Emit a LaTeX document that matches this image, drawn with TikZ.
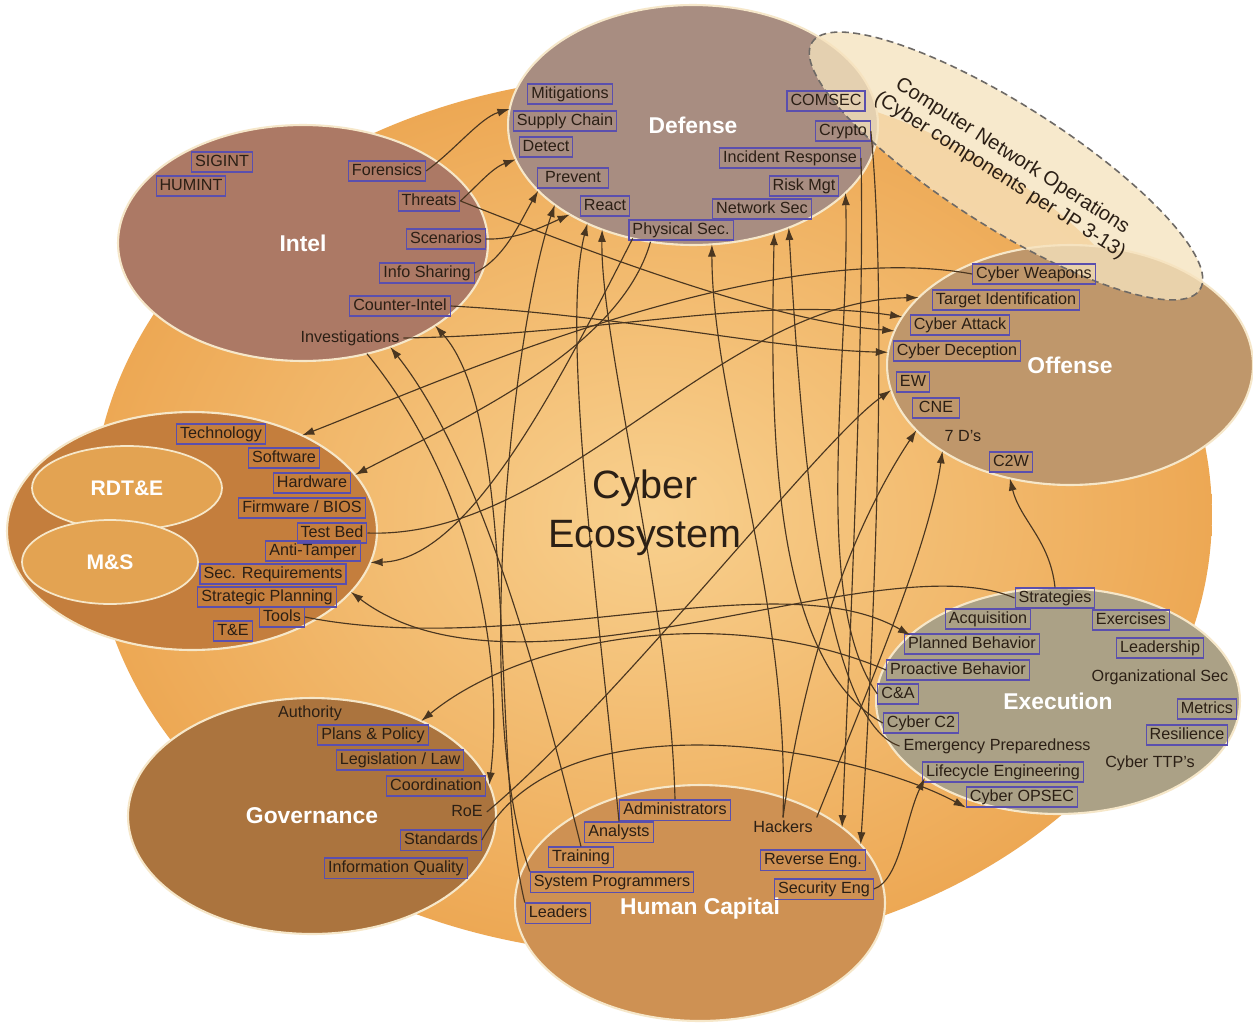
\documentclass[tikz,border=0pt]{standalone}
\usepackage{fontspec}
\setmainfont{Liberation Sans}
\usetikzlibrary{arrows.meta,shapes.geometric}
\definecolor{EcoLight}{HTML}{F8D08E}
\definecolor{EcoDeep}{HTML}{EDA854}
\definecolor{IntelBrown}{HTML}{AC7965}
\definecolor{DefMauve}{HTML}{A88D81}
\definecolor{OffTan}{HTML}{BF976B}
\definecolor{RdteOrange}{HTML}{C47E3D}
\definecolor{RdteInner}{HTML}{E3A352}
\definecolor{GovBrown}{HTML}{AB743E}
\definecolor{HumanTan}{HTML}{CE9153}
\definecolor{ExecOlive}{HTML}{ABA186}
\definecolor{CnoCream}{HTML}{F6E3BE}
\definecolor{RimCream}{HTML}{F6E7C9}
\definecolor{TagBlue}{HTML}{5A4FAE}
\definecolor{InkDark}{HTML}{2B1F15}
\definecolor{LinkBrown}{HTML}{4A3620}
\definecolor{DashGray}{HTML}{6E6A66}

\begin{document}
\begin{tikzpicture}[x=0.02cm,y=-0.02cm,
    region/.style={
      ellipse,
      draw=RimCream,
      line width=1.2pt,
      inner sep=0pt,
      outer sep=0pt,
      font=\fontsize{13}{15}\selectfont\bfseries,
      text=white
    },
    subregion/.style={
      ellipse,
      draw=RimCream,
      line width=1pt,
      fill=RdteInner,
      inner sep=0pt,
      minimum height=1.68cm,
      font=\fontsize{12}{14}\selectfont\bfseries,
      text=white
    },
    tag/.style={
      draw=TagBlue,
      line width=0.6pt,
      inner xsep=2pt,
      inner ysep=1.3pt,
      text height=6.8pt,
      text depth=2pt,
      font=\fontsize{9.2}{10}\selectfont,
      text=InkDark
    },
    bare/.style={tag, draw=none},
    link/.style={
      -{Latex[length=7pt,width=4.6pt]},
      draw=LinkBrown,
      line width=0.65pt
    }
  ]

  \fill[white] (0,0) rectangle (1253,1024);
  \useasboundingbox (0,0) rectangle (1253,1024);

  % Ecosystem backdrop
  \node[ellipse, inner sep=0pt, inner color=EcoLight, outer color=EcoDeep,
    minimum width=22.4cm, minimum height=17.6cm] (eco) at (652,515) {};

  % Areas
  \node[region, fill=IntelBrown, minimum width=7.4cm, minimum height=4.72cm] (intel) at (303,243) {Intel};
  \node[region, fill=DefMauve, minimum width=7.4cm, minimum height=4.8cm] (defense) at (693,125) {Defense};
  \node[region, fill=OffTan, minimum width=7.32cm, minimum height=4.8cm] (offense) at (1070,365) {Offense};
  \node[region, fill=RdteOrange, minimum width=7.4cm, minimum height=4.76cm] (rdte) at (192,531) {};
  \node[subregion, minimum width=3.8cm] (rdtein) at (127,488) {RDT\&E};
  \node[subregion, minimum width=3.52cm] (msin) at (110,562) {M\&S};
  \node[region, fill=GovBrown, minimum width=7.36cm, minimum height=4.72cm] (gov) at (312,816) {Governance};
  \node[region, fill=HumanTan, minimum width=7.4cm, minimum height=4.72cm] (hcap) at (700,903) {};
  \node[region, draw=none, fill=none] (hcaptitle) at (700,909) {Human Capital};
  \node[region, fill=ExecOlive, minimum width=7.28cm, minimum height=4.52cm] (exec) at (1058,701) {Execution};

  % CNO overlay
  \node[ellipse, draw=DashGray, dash pattern=on 4pt off 2.5pt, line width=0.9pt,
    fill=CnoCream, fill opacity=0.78, text opacity=1, rotate=-32.5,
    minimum width=9.2cm, minimum height=2.45cm, inner sep=0pt, align=center,
    font=\fontsize{11.5}{13}\selectfont, text=InkDark] (cno) at (1006,166)
    {Computer Network Operations\\(Cyber components per JP 3-13)};

  % Intel items
  \node[tag] (sigint) at (222,162) {SIGINT};
  \node[tag] (humint) at (191,186) {HUMINT};
  \node[tag] (forens) at (387,171) {Forensics};
  \node[tag] (threats) at (429,201) {Threats};
  \node[tag] (scen) at (446,239) {Scenarios};
  \node[tag] (infoshr) at (427,273) {Info Sharing};
  \node[tag] (counter) at (400,306) {Counter-Intel};
  \node[bare] (invest) at (350,338) {Investigations};

  % Defense items
  \node[tag] (mitig) at (570,94) {Mitigations};
  \node[tag] (supply) at (565,121) {Supply Chain};
  \node[tag] (detect) at (546,147) {Detect};
  \node[tag, minimum width=40pt] (prevent) at (573,178) {Prevent};
  \node[tag] (react) at (605,206) {React};
  \node[tag] (physec) at (681,230) {Physical Sec.};
  \node[tag] (netsec) at (762,209) {Network Sec};
  \node[tag] (riskmgt) at (804,186) {Risk Mgt};
  \node[tag] (incident) at (790,158) {Incident Response};
  \node[tag] (crypto) at (843,131) {Crypto};
  \node[tag] (comsec) at (826,101) {COMSEC};

  % Offense items
  \node[tag] (weapons) at (1034,274) {Cyber Weapons};
  \node[tag] (target) at (1006,300) {Target Identification};
  \node[tag] (attack) at (960,325) {Cyber Attack};
  \node[tag] (decept) at (957,351) {Cyber Deception};
  \node[tag] (ew) at (913,382) {EW};
  \node[tag, minimum width=27pt] (cne) at (936,408) {CNE};
  \node[bare] (sevend) at (963,437) {7 D's};
  \node[tag] (ctwow) at (1011,462) {C2W};

  % RDT&E items
  \node[tag] (techn) at (221,434) {Technology};
  \node[tag] (softw) at (284,458) {Software};
  \node[tag] (hardw) at (312,483) {Hardware};
  \node[tag] (firmw) at (302,508) {Firmware / BIOS};
  \node[tag] (testbed) at (332,533) {Test Bed};
  \node[tag] (antitamp) at (313,551) {Anti-Tamper};
  \node[tag] (secreq) at (273,574) {Sec. Requirements};
  \node[tag] (stratpl) at (267,597) {Strategic Planning};
  \node[tag] (tools) at (282,617) {Tools};
  \node[tag] (tande) at (233,631) {T\&E};

  % Governance items
  \node[bare] (authority) at (310,713) {Authority};
  \node[tag] (plans) at (373,735) {Plans \& Policy};
  \node[tag] (legis) at (400,760) {Legislation / Law};
  \node[tag] (coord) at (436,786) {Coordination};
  \node[bare] (roe) at (467,812) {RoE};
  \node[tag] (standards) at (441,840) {Standards};
  \node[tag] (infoq) at (396,868) {Information Quality};

  % Human Capital items
  \node[tag] (admins) at (675,810) {Administrators};
  \node[tag] (analysts) at (619,832) {Analysts};
  \node[tag] (training) at (581,857) {Training};
  \node[tag] (sysprog) at (612,882) {System Programmers};
  \node[tag] (leaders) at (558,913) {Leaders};
  \node[bare] (hackers) at (783,828) {Hackers};
  \node[tag] (reveng) at (813,860) {Reverse Eng.};
  \node[tag] (seceng) at (824,889) {Security Eng};

  % Execution items
  \node[tag] (strat) at (1055,598) {Strategies};
  \node[tag] (acquis) at (988,619) {Acquisition};
  \node[tag] (exerc) at (1131,620) {Exercises};
  \node[tag] (planned) at (972,644) {Planned Behavior};
  \node[tag] (leadship) at (1160,648) {Leadership};
  \node[tag] (proact) at (958,670) {Proactive Behavior};
  \node[bare] (orgsec) at (1160,677) {Organizational Sec};
  \node[tag] (cna) at (898,694) {C\&A};
  \node[tag] (metrics) at (1207,709) {Metrics};
  \node[tag] (cybc2) at (921,723) {Cyber C2};
  \node[tag] (resil) at (1187,735) {Resilience};
  \node[bare] (emerg) at (997,746) {Emergency Preparedness};
  \node[bare] (ttp) at (1150,763) {Cyber TTP's};
  \node[tag] (lifecyc) at (1003,772) {Lifecycle Engineering};
  \node[tag] (opsec) at (1022,797) {Cyber OPSEC};

  % Intel links
  \draw[link] (forens.east) .. controls (455,150) and (480,118) .. (defense.175);
  \draw[link] (threats.east) .. controls (478,185) and (492,168) .. (defense.191);
  \draw[link] (infoshr.east) .. controls (505,258) and (520,222) .. (defense.203);
  \draw[link] (scen.east) .. controls (515,240) and (540,228) .. (defense.216);
  \draw[link] (threats.east) .. controls (560,240) and (760,320) .. (offense.169);
  \draw[link] (counter.east) .. controls (620,315) and (780,350) .. (offense.176);
  \draw[link] (invest.east) .. controls (600,335) and (760,295) .. (offense.164);
  \draw[link] (intel.-60) .. controls (470,480) and (505,650) .. (gov.10);

  % RDT&E links
  \draw[link] (weapons.west) .. controls (760,235) and (420,390) .. (rdte.41);
  \draw[link] (defense.250) .. controls (620,350) and (460,420) .. (rdte.19);
  \draw[link] (defense.242) .. controls (560,380) and (470,560) .. (rdte.-10);
  \draw[link] (strat.west) .. controls (880,540) and (520,720) .. (rdte.-21);
  \draw[link] (testbed.east) .. controls (560,540) and (720,300) .. (offense.156);
  \draw[link] (tools.east) .. controls (520,660) and (780,560) .. (exec.156);

  % Governance links
  \draw[link] (proact.west) .. controls (720,600) and (520,640) .. (gov.41);
  \draw[link] (roe.east) .. controls (620,700) and (820,440) .. (offense.188);
  \draw[link] (standards.east) .. controls (560,690) and (860,750) .. (opsec.south west);

  % Human Capital links
  \draw[link] (sysprog.north west) .. controls (470,700) and (515,320) .. (defense.210);
  \draw[link] (analysts.north) .. controls (600,620) and (560,330) .. (defense.223);
  \draw[link] (admins.north) .. controls (670,600) and (600,340) .. (defense.229);
  \draw[link] (training.north) .. controls (540,680) and (480,460) .. (intel.-50);
  \draw[link] (leaders.north west) .. controls (490,760) and (520,420) .. (intel.-32);
  \draw[link] (hackers.north) .. controls (790,600) and (712,400) .. (defense.279);
  \draw[link] (hackers.north) .. controls (810,620) and (870,500) .. (offense.203);
  \draw[link] (hackers.north east) .. controls (880,660) and (930,540) .. (offense.214);
  \draw[link] (crypto.east) .. controls (890,330) and (870,700) .. (hcap.20);
  \draw[link] (incident.east) .. controls (865,330) and (848,680) .. (hcap.28);
  \draw[link] (seceng.east) .. controls (900,880) and (905,820) .. (exec.210);

  % Execution links
  \draw[link] (cna.west) .. controls (810,600) and (850,360) .. (defense.336);
  \draw[link] (cybc2.west) .. controls (770,660) and (770,420) .. (defense.307);
  \draw[link] (emerg.west) .. controls (820,720) and (800,420) .. (defense.313);
  \draw[link] (strat.north) .. controls (1050,540) and (1020,520) .. (offense.242);

  % Title
  \node[font=\fontsize{22.5}{28}\selectfont, text=InkDark, align=center] (title) at (645,513)
    {Cyber\\Ecosystem};

\end{tikzpicture}
\end{document}
